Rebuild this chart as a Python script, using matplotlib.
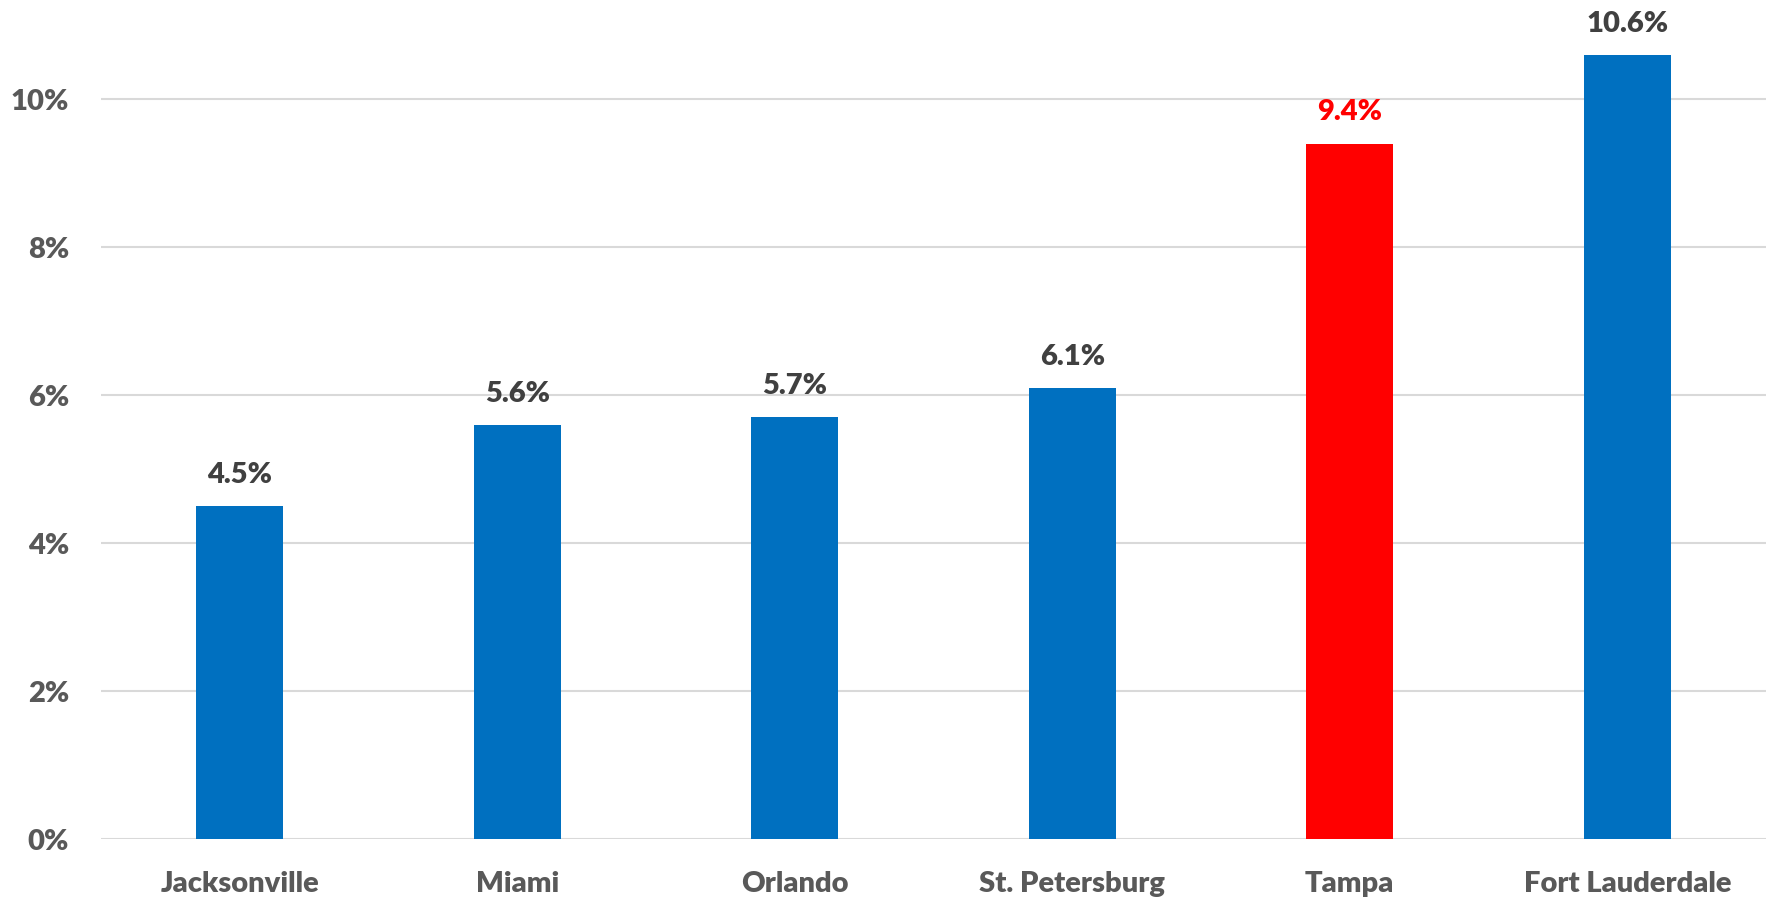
import matplotlib
matplotlib.use("Agg")
import matplotlib.pyplot as plt
from matplotlib.ticker import FuncFormatter

categories = ["Jacksonville", "Miami", "Orlando", "St. Petersburg", "Tampa", "Fort Lauderdale"]
values = [4.5, 5.6, 5.7, 6.1, 9.4, 10.6]
highlight = "Tampa"
yticks = [0, 2, 4, 6, 8, 10]

plt.rcParams['font.family'] = ['Lato', 'DejaVu Sans']
fig = plt.figure(figsize=(17.68, 9.01), dpi=100)
ax = fig.add_axes([0.0571, 0.0688, 0.9418, 0.9312])

colors = ['#FF0000' if c == highlight else '#0070C0' for c in categories]
x = list(range(len(categories)))
bars = ax.bar(x, values, width=0.314, color=colors, zorder=3)

ax.set_xlim(-0.5, len(categories) - 0.5)
ax.set_ylim(0, 11.34)
ax.set_yticks(yticks)
ax.yaxis.set_major_formatter(FuncFormatter(lambda v, p: f"{v:.0f}%"))
ax.set_xticks(x)
ax.set_xticklabels(categories)
ax.grid(axis='y', color='#D9D9D9', linewidth=1.5, zorder=0)
for s in ax.spines.values():
    s.set_visible(False)
ax.tick_params(axis='both', length=0, labelsize=21, colors='#595959')
ax.tick_params(axis='x', pad=23)
ax.tick_params(axis='y', pad=23)
for lab in ax.get_xticklabels() + ax.get_yticklabels():
    lab.set_fontweight('heavy')

for b, v, c in zip(bars, values, categories):
    col = '#FF0000' if c == highlight else '#404040'
    ax.annotate(f"{v:.1f}%", (b.get_x() + b.get_width() / 2, v),
                xytext=(0, 13), textcoords='offset points',
                ha='center', va='bottom', fontsize=21, fontweight='heavy', color=col)

fig.savefig("out.png", dpi=100)
